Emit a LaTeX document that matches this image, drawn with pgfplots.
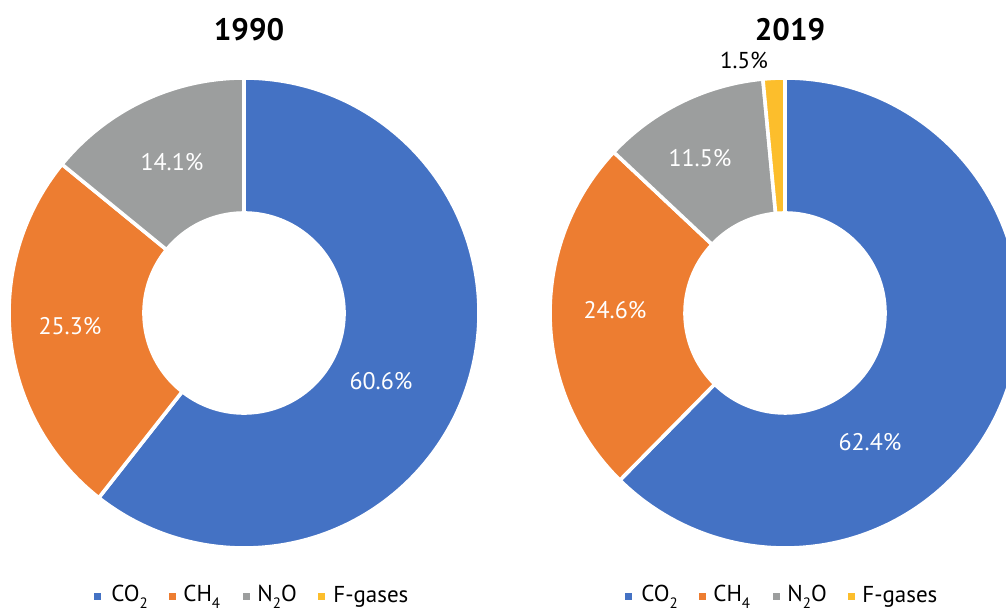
\documentclass[border=0pt]{standalone}
\usepackage{fontspec}
\setmainfont{PT Sans}
\usepackage{pgfplots}
\pgfplotsset{compat=1.18}
\definecolor{co2c}{HTML}{4472C4}
\definecolor{ch4c}{HTML}{ED7D31}
\definecolor{n2oc}{HTML}{9C9E9E}
\definecolor{fgc}{HTML}{FCBE2C}
\newcommand\sub[1]{\raisebox{-0.6ex}{\fontsize{7.5}{8}\selectfont #1}}
\newcommand\donut[3]{%
  \gdef\cum{0}%
  \foreach \v/\c in {#3} {%
    \pgfmathsetmacro\sa{90-3.6*\cum}%
    \pgfmathsetmacro\ea{90-3.6*(\cum+\v)}%
    \edef\tmp{\noexpand\fill[\c, draw=white, line width=1.8pt] (axis cs:#1,#2) ++(\sa:117.5pt) arc[start angle=\sa, end angle=\ea, radius=117.5pt] -- ++(\ea:-67.5pt) arc[start angle=\ea, end angle=\sa, radius=50pt] -- cycle;}%
    \tmp
    \pgfmathsetmacro\cumn{\cum+\v}%
    \global\let\cum\cumn
  }%
}
\newcommand\legrow[9]{% y, then 4 pairs square-x/text-x
  \fill[co2c] (axis cs:#2-1.75,#1-1.75) rectangle (axis cs:#2+1.75,#1+1.75);
  \node[anchor=west,inner sep=0pt,font=\fontsize{11.5}{13}\selectfont] at (axis cs:#3,#1) {CO\sub{2}};
  \fill[ch4c] (axis cs:#4-1.75,#1-1.75) rectangle (axis cs:#4+1.75,#1+1.75);
  \node[anchor=west,inner sep=0pt,font=\fontsize{11.5}{13}\selectfont] at (axis cs:#5,#1) {CH\sub{4}};
  \fill[n2oc] (axis cs:#6-1.75,#1-1.75) rectangle (axis cs:#6+1.75,#1+1.75);
  \node[anchor=west,inner sep=0pt,font=\fontsize{11.5}{13}\selectfont] at (axis cs:#7,#1) {N\sub{2}O};
  \fill[fgc] (axis cs:#8-1.75,#1-1.75) rectangle (axis cs:#8+1.75,#1+1.75);
  \node[anchor=west,inner sep=0pt,font=\fontsize{11.5}{13}\selectfont] at (axis cs:#9,#1) {F-gases};
}
\begin{document}
\begin{tikzpicture}
\useasboundingbox (0,0) rectangle (503pt,306.5pt);
\begin{axis}[
  hide axis, scale only axis,
  width=503pt, height=306.5pt,
  xmin=0, xmax=503, ymin=0, ymax=306.5,
  at={(0,0)}, anchor=south west,
  clip=true,
]
\addplot[draw=none] coordinates {(0,0) (503,306.5)};
% 1990
\donut{122}{150}{60.6/co2c, 25.3/ch4c, 14.1/n2oc}
% 2019
\donut{392.5}{150}{62.4/co2c, 24.6/ch4c, 11.5/n2oc, 1.5/fgc}
\node[font=\fontsize{15.5}{18}\selectfont\bfseries] at (axis cs:124.5,291.5) {1990};
\node[font=\fontsize{15.5}{18}\selectfont\bfseries] at (axis cs:395,291.5) {2019};
\begin{scope}[every node/.style={text=white,font=\fontsize{12}{14}\selectfont}]
\node at (axis cs:86,225.5) {14.1\%};
\node at (axis cs:190.5,116) {60.6\%};
\node at (axis cs:35,143.5) {25.3\%};
\node at (axis cs:350,227.5) {11.5\%};
\node at (axis cs:307.5,151.5) {24.6\%};
\node at (axis cs:435,85.5) {62.4\%};
\end{scope}
\node[font=\fontsize{11.5}{14}\selectfont] at (axis cs:372,276.5) {1.5\%};
\legrow{8}{48.5}{55.5}{86}{91.5}{123}{128.5}{160.5}{166.5}
\legrow{8}{314}{320.5}{351}{356.5}{388}{393.5}{425.5}{431}
\end{axis}
\end{tikzpicture}
\end{document}
